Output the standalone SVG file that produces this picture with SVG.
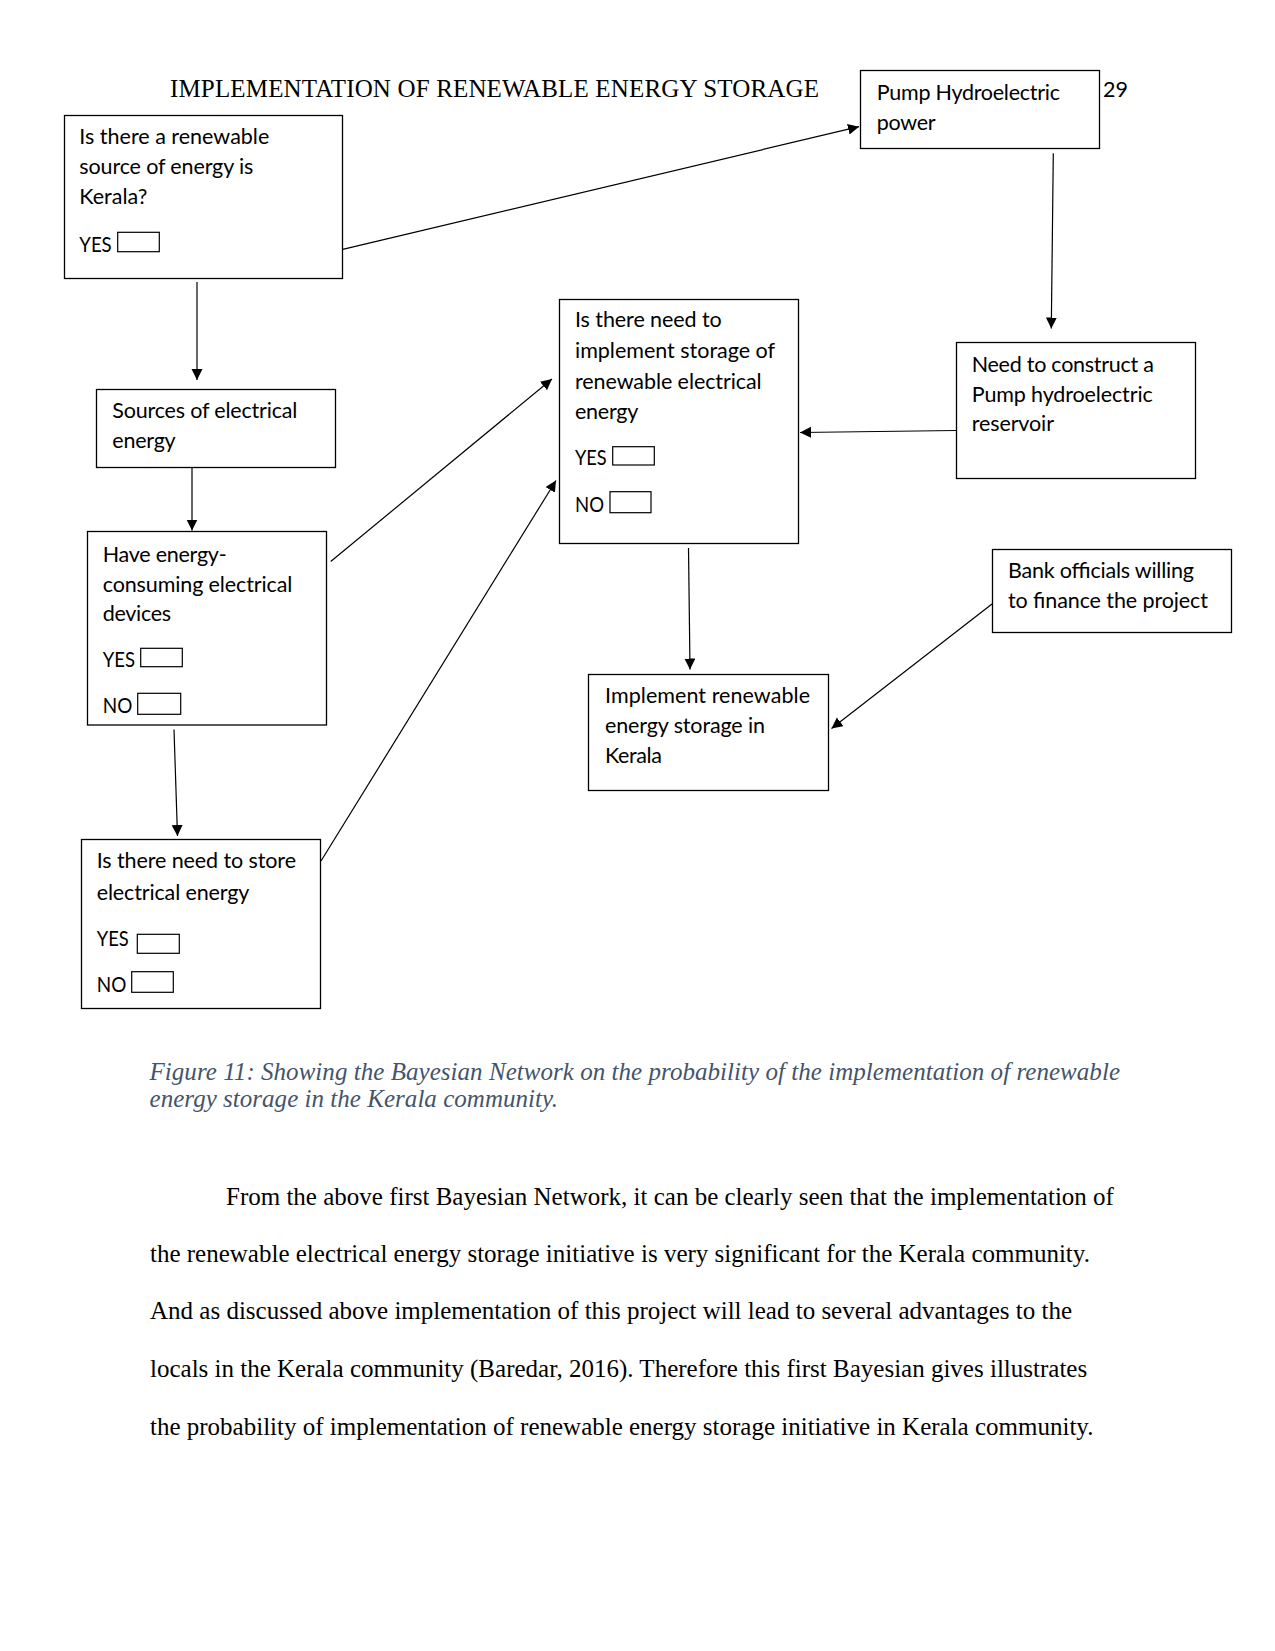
<svg xmlns="http://www.w3.org/2000/svg" width="1275" height="1651" viewBox="0 0 1275 1651">
<style>
.bg{fill:#fff}
.box{fill:#fff;stroke:#000;stroke-width:1.3}
.chk{fill:#fff;stroke:#000;stroke-width:1.2}
.t{font-family:Lato,"Noto Sans",sans-serif;font-size:21.5px;fill:#000}
.hdr{font-family:"Liberation Serif","Times New Roman",serif;font-size:25px;fill:#000}
.cap{font-family:"Liberation Serif","Times New Roman",serif;font-size:25px;font-style:italic;fill:#44546A}
.body{font-family:"Liberation Serif","Times New Roman",serif;font-size:25px;fill:#000}
.con{stroke:#000;stroke-width:1.2;fill:none;marker-end:url(#ah)}
</style>
<defs>
<marker id="ah" markerUnits="userSpaceOnUse" markerWidth="12" markerHeight="12" refX="11" refY="5.5" orient="auto">
<path d="M0,0 L11,5.5 L0,11 z" fill="#000"/>
</marker>
</defs>
<rect class="bg" x="0" y="0" width="1275" height="1651"/>
<text class="hdr" x="170" y="97" textLength="649" lengthAdjust="spacing">IMPLEMENTATION OF RENEWABLE ENERGY STORAGE</text>
<text class="t" x="1103" y="97">29</text>

<g id="connectors">
<line class="con" x1="342.7" y1="249.3" x2="859" y2="126.7"/>
<line class="con" x1="1053.3" y1="153.3" x2="1051.3" y2="328.5"/>
<line class="con" x1="956" y1="430.5" x2="800" y2="432.5"/>
<line class="con" x1="197" y1="282" x2="197" y2="380"/>
<line class="con" x1="192" y1="467.5" x2="192" y2="530.5"/>
<line class="con" x1="330.7" y1="561.5" x2="552" y2="379"/>
<line class="con" x1="174" y1="729.5" x2="177.5" y2="836"/>
<line class="con" x1="321" y1="861" x2="556" y2="480.5"/>
<line class="con" x1="688.5" y1="548" x2="690" y2="669.5"/>
<line class="con" x1="992" y1="604" x2="831.5" y2="728.5"/>
</g>

<g id="node-renewable-source">
<rect class="box" x="64.5" y="115.5" width="278" height="163"/>
<text class="t" x="79.3" y="144.3" textLength="190" lengthAdjust="spacing">Is there a renewable</text>
<text class="t" x="79.3" y="174.3" textLength="174" lengthAdjust="spacing">source of energy is</text>
<text class="t" x="79.3" y="204.3" textLength="68" lengthAdjust="spacing">Kerala?</text>
<text class="t" x="79.3" y="251.7" textLength="32.4" lengthAdjust="spacingAndGlyphs">YES</text>
<rect class="chk" x="117.7" y="232.3" width="41.6" height="19.4"/>
</g>

<g id="node-pump-power">
<rect class="box" x="860.5" y="70.5" width="239" height="78"/>
<text class="t" x="876.7" y="100" textLength="183.3" lengthAdjust="spacing">Pump Hydroelectric</text>
<text class="t" x="876.7" y="130" textLength="59" lengthAdjust="spacing">power</text>
</g>

<g id="node-construct-reservoir">
<rect class="box" x="956.5" y="342.5" width="239" height="136"/>
<text class="t" x="971.7" y="371.7" textLength="182.3" lengthAdjust="spacing">Need to construct a</text>
<text class="t" x="971.7" y="401.7" textLength="181" lengthAdjust="spacing">Pump hydroelectric</text>
<text class="t" x="971.7" y="431" textLength="82.3" lengthAdjust="spacing">reservoir</text>
</g>

<g id="node-sources">
<rect class="box" x="96.5" y="389.5" width="239" height="78"/>
<text class="t" x="112.3" y="418.3" textLength="185" lengthAdjust="spacing">Sources of electrical</text>
<text class="t" x="112.3" y="448.3" textLength="63.4" lengthAdjust="spacing">energy</text>
</g>

<g id="node-devices">
<rect class="box" x="87.5" y="531.5" width="239" height="193.5"/>
<text class="t" x="102.7" y="561.7" textLength="124" lengthAdjust="spacing">Have energy-</text>
<text class="t" x="102.7" y="591.7" textLength="189.6" lengthAdjust="spacing">consuming electrical</text>
<text class="t" x="102.7" y="620.7" textLength="68.3" lengthAdjust="spacing">devices</text>
<text class="t" x="102.7" y="666.7" textLength="32.3" lengthAdjust="spacingAndGlyphs">YES</text>
<rect class="chk" x="140.7" y="648.3" width="41.6" height="18.4"/>
<text class="t" x="102.7" y="713.3" textLength="29.6" lengthAdjust="spacingAndGlyphs">NO</text>
<rect class="chk" x="137.7" y="693.3" width="43" height="21"/>
</g>

<g id="node-need-implement-storage">
<rect class="box" x="559.5" y="299.5" width="239" height="244"/>
<text class="t" x="575" y="327.3" textLength="146.7" lengthAdjust="spacing">Is there need to</text>
<text class="t" x="575" y="358.3" textLength="200" lengthAdjust="spacing">implement storage of</text>
<text class="t" x="575" y="389" textLength="186.7" lengthAdjust="spacing">renewable electrical</text>
<text class="t" x="575" y="419.3" textLength="63.3" lengthAdjust="spacing">energy</text>
<text class="t" x="575" y="465" textLength="31.7" lengthAdjust="spacingAndGlyphs">YES</text>
<rect class="chk" x="612.7" y="446.7" width="41.6" height="18.3"/>
<text class="t" x="575" y="511.7" textLength="29" lengthAdjust="spacingAndGlyphs">NO</text>
<rect class="chk" x="610" y="491.7" width="41" height="21"/>
</g>

<g id="node-store">
<rect class="box" x="81.5" y="839.5" width="239" height="169"/>
<text class="t" x="96.7" y="868.3" textLength="199.3" lengthAdjust="spacing">Is there need to store</text>
<text class="t" x="96.7" y="900" textLength="152.6" lengthAdjust="spacing">electrical energy</text>
<text class="t" x="96.7" y="946" textLength="32" lengthAdjust="spacingAndGlyphs">YES</text>
<rect class="chk" x="137.3" y="934.3" width="42" height="19"/>
<text class="t" x="96.7" y="992.3" textLength="29.6" lengthAdjust="spacingAndGlyphs">NO</text>
<rect class="chk" x="131.7" y="971.7" width="41.6" height="20.6"/>
</g>

<g id="node-implement">
<rect class="box" x="588.5" y="674.5" width="240" height="116"/>
<text class="t" x="605" y="703.3" textLength="205" lengthAdjust="spacing">Implement renewable</text>
<text class="t" x="605" y="733.3" textLength="160" lengthAdjust="spacing">energy storage in</text>
<text class="t" x="605" y="762.7" textLength="57" lengthAdjust="spacing">Kerala</text>
</g>

<g id="node-bank">
<rect class="box" x="992.5" y="549.5" width="239" height="83"/>
<text class="t" x="1008" y="578.3" textLength="186" lengthAdjust="spacing">Bank officials willing</text>
<text class="t" x="1008" y="608.3" textLength="200" lengthAdjust="spacing">to finance the project</text>
</g>

<text class="cap" x="149.5" y="1079.5" textLength="970.5" lengthAdjust="spacing">Figure 11: Showing the Bayesian Network on the probability of the implementation of renewable</text>
<text class="cap" x="149.5" y="1106.5" textLength="408.5" lengthAdjust="spacing">energy storage in the Kerala community.</text>

<text class="body" x="226" y="1205">From the above first Bayesian Network, it can be clearly seen that the implementation of</text>
<text class="body" x="150" y="1261.7">the renewable electrical energy storage initiative is very significant for the Kerala community.</text>
<text class="body" x="150" y="1319">And as discussed above implementation of this project will lead to several advantages to the</text>
<text class="body" x="150" y="1376.7">locals in the Kerala community (Baredar, 2016). Therefore this first Bayesian gives illustrates</text>
<text class="body" x="150" y="1435">the probability of implementation of renewable energy storage initiative in Kerala community.</text>
</svg>
